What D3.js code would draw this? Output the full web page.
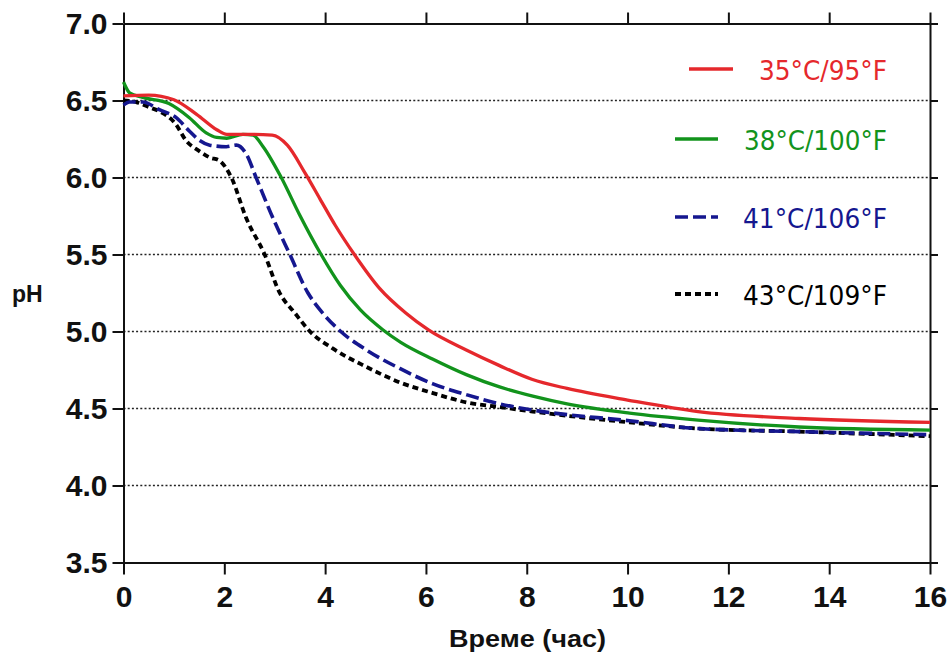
<!DOCTYPE html>
<html>
<head>
<meta charset="utf-8">
<script src="https://cdn.jsdelivr.net/npm/d3@7"></script>
<style>
  html, body { margin: 0; padding: 0; background: #fff; }
  svg { display: block; }
</style>
</head>
<body>
<div id="chart"></div>
<script>
// ---- data ----
const xTicks = [0, 2, 4, 6, 8, 10, 12, 14, 16];
const yTicks = [3.5, 4.0, 4.5, 5.0, 5.5, 6.0, 6.5, 7.0];
const gridValues = [4.0, 4.5, 5.0, 5.5, 6.0, 6.5];
const seriesNames = ["35°C/95°F", "38°C/100°F", "41°C/106°F", "43°C/109°F"];

const t35 = [0, 0.5, 1.0, 1.45, 1.85, 2.05, 2.5, 2.95, 3.25, 3.6, 3.9, 4.2, 4.58, 5.08, 5.6, 6.05, 6.8, 7.45, 8.1, 8.8, 10.0, 11.4, 13.4, 16];
const ph35 = [6.53, 6.535, 6.505, 6.41, 6.31, 6.28, 6.28, 6.275, 6.21, 6.03, 5.86, 5.69, 5.5, 5.28, 5.12, 5.01, 4.88, 4.78, 4.69, 4.63, 4.555, 4.48, 4.435, 4.41];

const t38 = [0, 0.12, 0.38, 0.9, 1.3, 1.64, 1.85, 2.05, 2.37, 2.57, 2.77, 3.13, 3.49, 3.92, 4.3, 4.7, 5.15, 5.5, 6.14, 6.8, 7.46, 8.12, 8.8, 10.04, 11.4, 13.4, 16];
const ph38 = [6.62, 6.55, 6.52, 6.48, 6.39, 6.29, 6.26, 6.255, 6.28, 6.275, 6.2, 6.0, 5.76, 5.5, 5.3, 5.14, 5.01, 4.93, 4.82, 4.72, 4.64, 4.58, 4.53, 4.47, 4.425, 4.38, 4.36];

const t41 = [0, 0.12, 0.38, 0.71, 1.04, 1.31, 1.51, 1.71, 2.04, 2.24, 2.44, 2.63, 2.96, 3.3, 3.66, 3.9, 4.31, 4.82, 5.48, 6.14, 6.8, 7.46, 8.12, 10.04, 11.4, 13.4, 16];
const ph41 = [6.47, 6.49, 6.49, 6.44, 6.39, 6.30, 6.24, 6.21, 6.20, 6.21, 6.15, 6.0, 5.74, 5.5, 5.25, 5.14, 5.0, 4.88, 4.76, 4.66, 4.59, 4.53, 4.49, 4.42, 4.37, 4.35, 4.33];

const t43 = [0, 0.25, 0.52, 0.71, 1.04, 1.24, 1.51, 1.71, 1.9, 2.14, 2.43, 2.8, 3.1, 3.4, 3.7, 4.15, 4.82, 5.48, 6.14, 6.8, 7.46, 8.12, 10.04, 11.4, 13.4, 16];
const ph43 = [6.5, 6.49, 6.455, 6.43, 6.345, 6.24, 6.17, 6.13, 6.11, 6.0, 5.74, 5.5, 5.25, 5.12, 5.0, 4.89, 4.77, 4.67, 4.60, 4.54, 4.51, 4.48, 4.41, 4.37, 4.35, 4.32];

// ---- styles ----
const colors = ["#e5282c", "#12931c", "#15178f", "#000000"];
const dashes = [null, null, "13,5", "6,4"];
const widths = [3.3, 3.3, 3.6, 3.8];

const W = 951, H = 654;
const x = d3.scaleLinear().domain([0, 16]).range([123.5, 930]);
const y = d3.scaleLinear().domain([3.5, 7.0]).range([562.5, 23.5]);

const svg = d3.select("#chart").append("svg").attr("width", W).attr("height", H);
const fontBold = "'Liberation Sans', Arial, Helvetica, sans-serif";

// grid lines
svg.append("g").selectAll("line").data(gridValues).join("line")
  .attr("x1", x(0)).attr("x2", x(16))
  .attr("y1", d => y(d)).attr("y2", d => y(d))
  .attr("stroke", "#222").attr("stroke-width", 1.6)
  .attr("stroke-dasharray", "2,2.2");

// axes
function styleAxis(g) {
  g.selectAll(".domain").attr("stroke", "#111").attr("stroke-width", 2);
  g.selectAll(".tick line").attr("stroke", "#111").attr("stroke-width", 2);
  g.selectAll("text").attr("font-family", fontBold).attr("font-weight", "bold")
    .attr("font-size", 30).attr("fill", "#111");
}

svg.append("g").attr("transform", `translate(0,${y(3.5)})`)
  .call(d3.axisBottom(x).tickValues(xTicks).tickSize(12).tickPadding(11).tickSizeOuter(0).tickFormat(d3.format("d")))
  .call(styleAxis);

svg.append("g").attr("transform", `translate(${x(0)},0)`)
  .call(d3.axisLeft(y).tickValues(yTicks).tickSize(11).tickPadding(5).tickSizeOuter(0).tickFormat(d3.format(".1f")))
  .call(styleAxis);

svg.append("g").attr("transform", `translate(0,${y(7.0)})`)
  .call(d3.axisTop(x).tickValues(xTicks).tickSize(11).tickSizeOuter(0).tickFormat(""))
  .call(styleAxis);

svg.append("g").attr("transform", `translate(${x(16)},0)`)
  .call(d3.axisRight(y).tickValues(yTicks).tickSize(8).tickSizeOuter(0).tickFormat(""))
  .call(styleAxis);

// lines
const seriesT = [t35, t38, t41, t43];
const seriesP = [ph35, ph38, ph41, ph43];
const line = d3.line().x(d => x(d[0])).y(d => y(d[1])).curve(d3.curveMonotoneX);

// draw black first, then blue, green, red on top
[3, 2, 1, 0].forEach(i => {
  const pts = seriesT[i].map((t, k) => [t, seriesP[i][k]]);
  svg.append("path").datum(pts)
    .attr("d", line)
    .attr("fill", "none")
    .attr("stroke", colors[i])
    .attr("stroke-width", widths[i])
    .attr("stroke-dasharray", dashes[i])
    .attr("stroke-linejoin", "round");
});

// legend
const legLineX = [[689, 733], [675, 718], [675, 718], [675, 718]];
const legY = [69, 139, 217, 294];
const legTextX = 887;
const legTextW = [128, 143, 144, 144];
const leg = svg.append("g");
seriesNames.forEach((name, i) => {
  leg.append("line")
    .attr("x1", legLineX[i][0]).attr("x2", legLineX[i][1])
    .attr("y1", legY[i]).attr("y2", legY[i])
    .attr("stroke", colors[i]).attr("stroke-width", widths[i])
    .attr("stroke-dasharray", dashes[i]);
  leg.append("text")
    .attr("x", legTextX - legTextW[i]).attr("y", legY[i] + 10.5)
    .attr("textLength", legTextW[i]).attr("lengthAdjust", "spacingAndGlyphs")
    .attr("font-family", "'DejaVu Sans', Verdana, sans-serif")
    .attr("font-size", 26)
    .attr("fill", colors[i])
    .text(name);
});

// axis titles
svg.append("text")
  .attr("x", 12).attr("y", 302)
  .attr("font-family", fontBold).attr("font-weight", "bold").attr("font-size", 23)
  .attr("fill", "#111")
  .text("pH");

svg.append("text")
  .attr("x", 449).attr("y", 647)
  .attr("textLength", 157).attr("lengthAdjust", "spacingAndGlyphs")
  .attr("font-family", fontBold).attr("font-weight", "bold").attr("font-size", 23)
  .attr("fill", "#111")
  .text("Време (час)");
</script>
</body>
</html>
